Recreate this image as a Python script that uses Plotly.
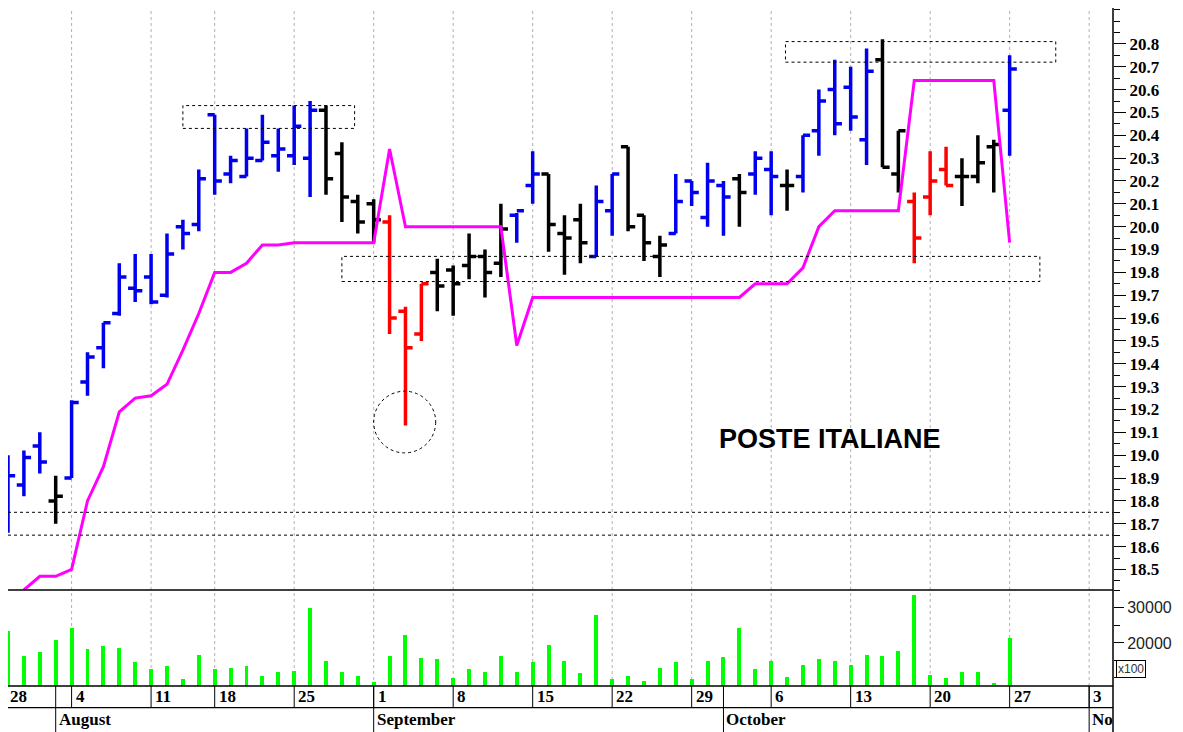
import plotly.graph_objects as go

# trading-day index 1 = 29 Jul ... 64 = 27 Oct
idx = list(range(1, 65))
opens = [18.70,18.87,19.04,18.80,18.90,19.32,19.47,19.62,19.73,19.78,19.70,20.00,20.01,20.49,20.23,20.22,20.29,20.31,20.31,20.30,
         20.51,20.32,20.11,20.10,20.02,19.63,19.53,19.80,19.81,19.83,19.87,19.84,20.05,20.18,20.23,19.97,20.03,19.87,20.07,20.35,
         20.05,19.87,19.97,20.20,20.04,20.18,20.21,20.23,20.25,20.18,20.22,20.42,20.60,20.61,20.38,20.73,20.23,20.11,20.13,20.25,
         20.22,20.22,20.35,20.51]
highs = [19.00,19.02,19.10,18.91,19.24,19.45,19.58,19.84,19.88,19.88,19.97,20.03,20.25,20.49,20.31,20.43,20.49,20.43,20.53,20.55,
         20.53,20.37,20.14,20.12,20.05,19.65,19.75,19.86,19.83,19.97,19.90,20.10,20.06,20.33,20.23,20.05,20.10,20.18,20.23,20.35,
         20.05,19.96,20.23,20.20,20.28,20.20,20.23,20.33,20.33,20.25,20.40,20.60,20.73,20.70,20.78,20.82,20.42,20.15,20.33,20.35,
         20.30,20.40,20.38,20.75]
lows = [18.66,18.82,18.92,18.70,18.90,19.26,19.38,19.61,19.67,19.66,19.69,19.90,19.98,20.14,20.19,20.22,20.29,20.24,20.27,20.13,
        20.14,20.02,19.97,19.93,19.53,19.13,19.50,19.63,19.61,19.77,19.69,19.78,19.93,20.10,19.89,19.79,19.84,19.87,19.96,19.98,
        19.85,19.78,19.97,20.09,20.00,19.96,20.00,20.14,20.05,20.07,20.15,20.31,20.40,20.42,20.27,20.26,20.15,19.84,20.05,20.18,
        20.09,20.19,20.15,20.31]
closes = [18.91,18.99,18.97,18.82,19.23,19.43,19.58,19.78,19.72,19.67,19.88,19.97,20.21,20.20,20.29,20.30,20.37,20.34,20.44,20.51,
          20.21,20.13,20.02,20.03,19.60,19.47,19.75,19.74,19.75,19.87,19.80,19.99,20.07,20.23,20.01,19.95,19.93,20.11,20.23,20.00,
          19.93,19.92,20.11,20.15,20.20,20.13,20.15,20.30,20.22,20.18,20.40,20.55,20.45,20.48,20.68,20.26,20.42,19.95,20.20,20.18,
          20.22,20.28,20.36,20.69]
colors = (["b"]*3 + ["k"] + ["b"]*16 + ["k"]*4 + ["r"]*3 + ["k"]*5 + ["b"]*2 + ["k"]*3 + ["b"]*2 + ["k"]*3 +
          ["b"]*4 + ["k"] + ["b"]*2 + ["k"] + ["b"]*5 + ["k"]*2 + ["r"]*3 + ["k"]*3 + ["b"])
volumes = [23400,16300,17400,20900,24300,18300,19100,18600,14600,12600,13400,9700,16600,12600,12900,13400,10600,11700,12000,30000,
           14900,11700,10600,8900,16300,22300,15700,15400,10000,12600,11700,16300,11700,14600,19400,14900,11400,28000,9700,10600,
           9100,12900,14600,9700,14900,16000,24300,12600,14900,10300,13700,15400,14900,13700,16600,16300,17700,33700,10900,10000,
           11700,11700,8600,21400]
stop_x = list(range(2, 65))
stop_y = [18.41,18.47,18.47,18.50,18.80,18.95,19.19,19.25,19.26,19.31,19.46,19.62,19.80,19.80,19.84,19.92,19.92,19.93,19.93,19.93,
          19.93,19.93,19.93,20.34,20.00,20.00,20.00,20.00,20.00,20.00,20.00,19.48,19.69,19.69,19.69,19.69,19.69,19.69,19.69,19.69,
          19.69,19.69,19.69,19.69,19.69,19.69,19.75,19.75,19.75,19.82,20.00,20.07,20.07,20.07,20.07,20.07,20.64,20.64,20.64,20.64,
          20.64,20.64,19.93]
week_idx = [0,5,10,14,19,24,29,34,39,44,49,54,59,64,69]
week_lbl = ["28","4","11","18","25","1","8","15","22","29","6","13","20","27","3"]
month_idx = [4,24,46,69]
month_lbl = ["August","September","October","No"]
price_ticks = [round(18.5+0.1*k, 1) for k in range(24)]
vol_ticks = [20000, 30000]

cmap = {"b": "#0000ee", "k": "#000000", "r": "#ff0000"}
fig = go.Figure()
for c in ["b", "k", "r"]:
    sel = [j for j in range(len(idx)) if colors[j] == c]
    fig.add_trace(go.Ohlc(
        x=[idx[j] for j in sel], open=[opens[j] for j in sel], high=[highs[j] for j in sel],
        low=[lows[j] for j in sel], close=[closes[j] for j in sel],
        increasing=dict(line=dict(color=cmap[c], width=3.5)),
        decreasing=dict(line=dict(color=cmap[c], width=3.5)),
        tickwidth=0.45, xaxis="x", yaxis="y", hoverinfo="skip", showlegend=False))
fig.add_trace(go.Scatter(x=stop_x, y=stop_y, mode="lines", line=dict(color="#ff00ff", width=3),
                         xaxis="x", yaxis="y", showlegend=False, hoverinfo="skip"))
fig.add_trace(go.Bar(x=idx, y=volumes, marker=dict(color="#00ff00", line=dict(width=0)), width=0.25,
                     base=0, xaxis="x", yaxis="y2", showlegend=False, hoverinfo="skip"))

shapes = []
for w in week_idx[1:]:
    shapes.append(dict(type="line", xref="x", yref="paper", x0=w, x1=w, y0=0, y1=1,
                       line=dict(color="#b0b0b0", width=1, dash="dot"), layer="below"))
    shapes.append(dict(type="line", xref="x", yref="paper", x0=w, x1=w, y0=-0.032, y1=0,
                       line=dict(color="black", width=1)))
for m in month_idx:
    shapes.append(dict(type="line", xref="x", yref="paper", x0=m, x1=m, y0=-0.07, y1=0,
                       line=dict(color="black", width=1)))
shapes.append(dict(type="line", xref="paper", yref="paper", x0=0, x1=1, y0=-0.032, y1=-0.032, line=dict(color="black", width=1.2)))
shapes.append(dict(type="line", xref="paper", yref="paper", x0=0, x1=1, y0=0, y1=0, line=dict(color="black", width=1.5)))
shapes.append(dict(type="line", xref="paper", yref="paper", x0=0, x1=1, y0=0.1416, y1=0.1416, line=dict(color="black", width=1.5)))
shapes.append(dict(type="line", xref="paper", yref="paper", x0=1, x1=1, y0=-0.07, y1=1, line=dict(color="black", width=1.5)))
for lvl in [18.75, 18.65]:
    shapes.append(dict(type="line", xref="paper", yref="y", x0=0, x1=1, y0=lvl, y1=lvl,
                       line=dict(color="black", width=1, dash="dot")))
for (a, b, lo, hi) in [(12.0, 22.8, 20.43, 20.53), (22.0, 65.9, 19.76, 19.87), (49.9, 66.9, 20.72, 20.81)]:
    shapes.append(dict(type="rect", xref="x", yref="y", x0=a, x1=b, y0=lo, y1=hi,
                       line=dict(color="black", width=1, dash="dot")))
shapes.append(dict(type="circle", xref="x", yref="y", x0=24.0, x1=27.9, y0=19.01, y1=19.28,
                   line=dict(color="black", width=1, dash="dot")))

ann = []
lab_font = dict(family="Liberation Serif", size=17, color="black", weight="bold")
for w, t in zip(week_idx, week_lbl):
    if t == "28":
        ann.append(dict(x=0, y=-0.016, xref="paper", yref="paper", text=t, showarrow=False, xanchor="left",
                        yanchor="middle", font=lab_font))
        continue
    ann.append(dict(x=w, y=-0.016, xref="x", yref="paper", text=t, showarrow=False, xanchor="left", xshift=2,
                    yanchor="middle", font=lab_font))
for m, t in zip(month_idx, month_lbl):
    ann.append(dict(x=m, y=-0.05, xref="x", yref="paper", text=t, showarrow=False, xanchor="left", xshift=1,
                    yanchor="middle", font=lab_font))
ann.append(dict(x=52.7, y=19.07, xref="x", yref="y", text="POSTE ITALIANE", showarrow=False,
                font=dict(family="Liberation Sans", size=27, color="black", weight="bold")))
ann.append(dict(x=1.0, y=0.012, xref="paper", yref="paper", text="x100", showarrow=False, xanchor="left", yanchor="bottom",
                xshift=3, bordercolor="black", borderwidth=1, borderpad=1,
                font=dict(family="Liberation Sans", size=12, color="#333")))

fig.update_layout(
    width=1175, height=724, margin=dict(l=0, r=70, t=0, b=46, autoexpand=False),
    paper_bgcolor="white", plot_bgcolor="white", bargap=0,
    xaxis=dict(range=[1.0, 70.5], anchor="y2", showticklabels=False, showgrid=False, zeroline=False,
               rangeslider=dict(visible=False), ticks=""),
    yaxis=dict(domain=[0.1416, 1], range=[18.41, 20.957], side="right", tickvals=price_ticks,
               ticktext=[f"{v:.1f}" for v in price_ticks], ticks="outside", ticklen=12, tickcolor="black",
               minor=dict(dtick=0.05, ticks="outside", ticklen=6, tickcolor="black"),
               showgrid=False, zeroline=False, showline=False,
               tickfont=dict(family="Liberation Serif", size=17, color="black", weight="bold")),
    yaxis2=dict(domain=[0, 0.1416], range=[7700, 35100], side="right", tickvals=vol_ticks,
                ticktext=[str(v) for v in vol_ticks],
                ticks="outside", ticklen=10, tickcolor="black",
                minor=dict(tickvals=[15000, 25000, 35000, 10000], ticks="outside", ticklen=6, tickcolor="black"),
                showgrid=False, zeroline=False,
                tickfont=dict(family="Liberation Sans", size=16, color="#222")),
    shapes=shapes, annotations=ann,
)
fig.write_html("out.html")
